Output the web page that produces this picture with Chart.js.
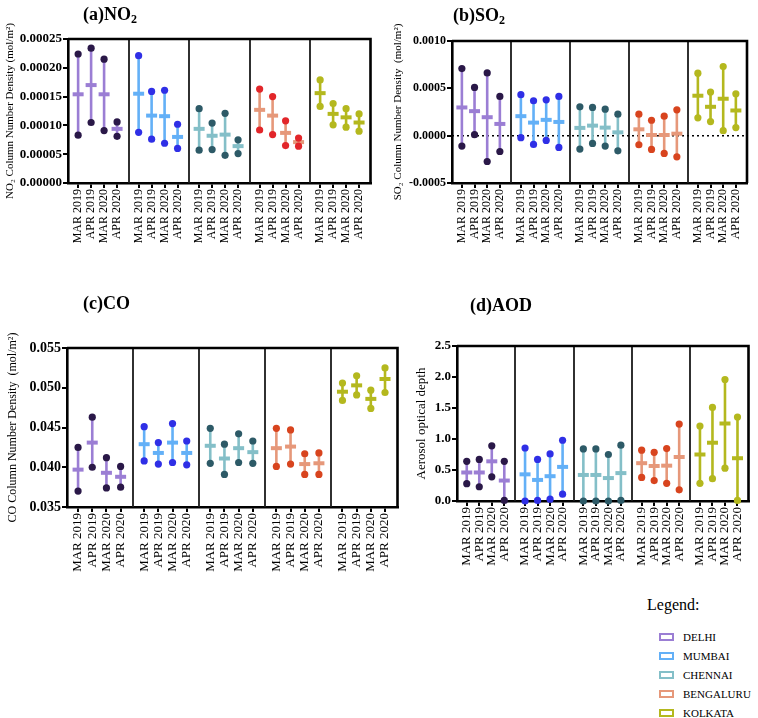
<!DOCTYPE html>
<html><head><meta charset="utf-8">
<script src="https://cdn.jsdelivr.net/npm/chart.js@4.4.0/dist/chart.umd.min.js"></script>
<style>
html,body{margin:0;padding:0;background:#fff;}
body{width:758px;height:718px;position:relative;overflow:hidden;font-family:"Liberation Serif","Times New Roman",serif;color:#000;}
canvas{position:absolute;}
.ttl{position:absolute;font-weight:bold;font-size:18px;line-height:18px;white-space:nowrap;}
.ttl sub{font-size:12px;vertical-align:-3px;line-height:0;}
#legTitle{position:absolute;left:647px;top:597px;font-size:16px;line-height:16px;}
.legItem{position:absolute;left:659px;height:12px;font-size:11px;line-height:12px;white-space:nowrap;}
.legBox{position:absolute;left:0;top:2px;width:11px;height:4px;border:2px solid;background:#fff;}
.legTxt{position:absolute;left:24px;top:0;}
</style></head>
<body>
<canvas id="cA" width="380" height="260" style="left:0;top:0"></canvas>
<canvas id="cB" width="370" height="260" style="left:388px;top:0"></canvas>
<canvas id="cC" width="405" height="285" style="left:2px;top:300px"></canvas>
<canvas id="cD" width="348" height="285" style="left:410px;top:300px"></canvas>
<div class="ttl" style="left:83px;top:5px">(a)NO<sub>2</sub></div>
<div class="ttl" style="left:453px;top:6px">(b)SO<sub>2</sub></div>
<div class="ttl" style="left:83px;top:294px">(c)CO</div>
<div class="ttl" style="left:470px;top:296px">(d)AOD</div>
<div id="legTitle">Legend:</div>
<div id="legend"></div>
<script>
// ---- categories ----
const cities = ['DELHI', 'MUMBAI', 'CHENNAI', 'BENGALURU', 'KOLKATA'];
const periods = ['MAR 2019', 'APR 2019', 'MAR 2020', 'APR 2020'];

// ---- NO2 (mol/m^2): rows = cities, columns = periods ----
const no2Mean = [
  [0.000154, 0.000170, 0.000154, 0.000094],
  [0.000155, 0.000117, 0.000116, 0.000080],
  [0.000094, 0.000082, 0.000084, 0.000064],
  [0.000127, 0.000117, 0.000087, 0.000071],
  [0.000156, 0.000120, 0.000114, 0.000105]
];
const no2Min = [
  [0.000083, 0.000105, 0.000091, 0.000081],
  [0.000088, 0.000076, 0.000069, 0.000060],
  [0.000057, 0.000058, 0.000048, 0.000051],
  [0.000092, 0.000084, 0.000065, 0.000064],
  [0.000133, 0.000101, 0.000097, 0.000090]
];
const no2Max = [
  [0.000224, 0.000234, 0.000215, 0.000106],
  [0.000221, 0.000159, 0.000161, 0.000102],
  [0.000129, 0.000104, 0.000121, 0.000075],
  [0.000163, 0.000150, 0.000108, 0.000078],
  [0.000179, 0.000138, 0.000129, 0.000120]
];

// ---- SO2 ----
const so2Mean = [
  [0.000298, 0.000259, 0.000195, 0.000124],
  [0.000206, 0.000138, 0.000167, 0.000145],
  [0.000082, 0.000106, 0.000085, 0.000035],
  [0.000067, 0.000007, 0.000007, 0.000021],
  [0.000422, 0.000305, 0.000390, 0.000266]
];
const so2Min = [
  [-0.000110, 0.000010, -0.000273, -0.000167],
  [-0.000021, -0.000092, -0.000050, -0.000124],
  [-0.000142, -0.000082, -0.000110, -0.000160],
  [-0.000096, -0.000145, -0.000188, -0.000223],
  [0.000188, 0.000149, 0.000053, 0.000085]
];
const so2Max = [
  [0.000709, 0.000510, 0.000663, 0.000415],
  [0.000433, 0.000369, 0.000379, 0.000415],
  [0.000305, 0.000298, 0.000280, 0.000227],
  [0.000227, 0.000163, 0.000206, 0.000273],
  [0.000660, 0.000461, 0.000730, 0.000443]
];

// ---- CO ----
const coMean = [
  [0.0397, 0.0431, 0.0393, 0.0388],
  [0.0429, 0.0418, 0.0431, 0.0418],
  [0.0427, 0.0411, 0.0424, 0.0419],
  [0.0424, 0.0426, 0.0404, 0.0405],
  [0.0495, 0.0503, 0.0486, 0.0511]
];
const coMin = [
  [0.0370, 0.0400, 0.0374, 0.0375],
  [0.0408, 0.0404, 0.0406, 0.0403],
  [0.0405, 0.0391, 0.0406, 0.0405],
  [0.0401, 0.0404, 0.0391, 0.0391],
  [0.0484, 0.0491, 0.0474, 0.0494]
];
const coMax = [
  [0.0425, 0.0463, 0.0412, 0.0401],
  [0.0451, 0.0431, 0.0455, 0.0433],
  [0.0449, 0.0429, 0.0442, 0.0433],
  [0.0449, 0.0447, 0.0417, 0.0418],
  [0.0506, 0.0515, 0.0497, 0.0525]
];

// ---- AOD ----
const aodMean = [
  [0.46, 0.46, 0.64, 0.33],
  [0.43, 0.34, 0.40, 0.55],
  [0.42, 0.42, 0.37, 0.45],
  [0.61, 0.565, 0.57, 0.71],
  [0.75, 0.94, 1.25, 0.69]
];
const aodMin = [
  [0.28, 0.23, 0.39, 0.01],
  [0.00, 0.01, 0.03, 0.11],
  [0.00, 0.00, 0.00, 0.01],
  [0.38, 0.33, 0.285, 0.18],
  [0.285, 0.36, 0.53, 0.01]
];
const aodMax = [
  [0.64, 0.67, 0.89, 0.64],
  [0.855, 0.67, 0.76, 0.98],
  [0.84, 0.84, 0.75, 0.90],
  [0.82, 0.785, 0.845, 1.24],
  [1.21, 1.51, 1.96, 1.355]
];

// ---- tick labels ----
const no2Ticks = [0, 0.00005, 0.0001, 0.00015, 0.0002, 0.00025];
const so2Ticks = [-0.0005, 0, 0.0005, 0.001];
const coTicks = [0.035, 0.040, 0.045, 0.050, 0.055];
const aodTicks = [0, 0.5, 1.0, 1.5, 2.0, 2.5];

// ---- styling ----
const lineColors = ['#9b7ed4', '#63b0f7', '#84bfc8', '#e6987a', '#b4b81e'];
const dotColors = ['#2a1848', '#2f2fe6', '#2d5a67', '#d8441e', '#b4b81e'];
const FONT = '"Liberation Serif", "Times New Roman", serif';
Chart.defaults.color = '#000';
Chart.defaults.font.family = FONT;

const G = 4.66, OFF = 0.78;
function xPos(c, p) { return c * G + OFF + p; }

const framePlugin = {
  id: 'frame',
  beforeDatasetsDraw(chart, args, opts) {
    const { ctx, chartArea: a, scales } = chart;
    const x = scales.x, y = scales.y;
    ctx.save();
    ctx.strokeStyle = '#1a1a1a';
    ctx.lineWidth = 1.8;
    for (let c = 1; c < cities.length; c++) {
      const px = Math.round(x.getPixelForValue(c * G));
      ctx.beginPath(); ctx.moveTo(px, a.top); ctx.lineTo(px, a.bottom); ctx.stroke();
    }
    if (opts && opts.zero) {
      const py = y.getPixelForValue(0);
      ctx.setLineDash([2, 3]);
      ctx.lineWidth = 1.5;
      ctx.strokeStyle = '#000';
      ctx.beginPath(); ctx.moveTo(a.left, py); ctx.lineTo(a.right, py); ctx.stroke();
      ctx.setLineDash([]);
    }
    ctx.strokeStyle = '#000';
    ctx.lineWidth = 2.6;
    ctx.beginPath();
    ctx.moveTo(a.left, a.top); ctx.lineTo(a.right, a.top); ctx.lineTo(a.right, a.bottom);
    ctx.stroke();
    ctx.restore();
  }
};

function build(id, cfg) {
  const datasets = [];
  cities.forEach((city, c) => {
    const lineData = [], meanData = [], endData = [];
    periods.forEach((per, p) => {
      const x = xPos(c, p);
      lineData.push({ x: x, y: cfg.min[c][p] }, { x: x, y: cfg.max[c][p] }, { x: x, y: null });
      meanData.push({ x: x, y: cfg.mean[c][p] });
      endData.push({ x: x, y: cfg.min[c][p] }, { x: x, y: cfg.max[c][p] });
    });
    const dot = (cfg.dotOverride && cfg.dotOverride[c]) || dotColors[c];
    datasets.push({
      type: 'line', label: city, data: lineData, borderColor: lineColors[c], borderWidth: 2.6,
      pointRadius: 0, spanGaps: false, fill: false, tension: 0, order: 3, clip: false
    });
    datasets.push({
      type: 'scatter', label: city + ' mean', data: meanData, pointStyle: 'line', pointRadius: 5.5,
      pointBorderWidth: 4, pointBorderColor: lineColors[c], borderColor: lineColors[c],
      pointBackgroundColor: lineColors[c], order: 2, clip: false
    });
    datasets.push({
      type: 'scatter', label: city + ' range', data: endData, pointStyle: 'circle', pointRadius: 3.6,
      pointBorderWidth: 0, pointBackgroundColor: dot, backgroundColor: dot, borderColor: dot,
      order: 1, clip: false
    });
  });
  const tickPositions = [];
  cities.forEach((city, c) => periods.forEach((per, p) => tickPositions.push(xPos(c, p))));

  new Chart(document.getElementById(id), {
    type: 'scatter',
    data: { datasets: datasets },
    plugins: [framePlugin],
    options: {
      responsive: false,
      animation: false,
      events: [],
      layout: { padding: { top: cfg.pt, right: cfg.pr, left: 0, bottom: 0 } },
      plugins: { legend: { display: false }, tooltip: { enabled: false }, frame: { zero: !!cfg.zero } },
      scales: {
        x: {
          type: 'linear', min: 0, max: cities.length * G,
          afterBuildTicks: s => { s.ticks = tickPositions.map(v => ({ value: v })); },
          afterFit: s => { s.height = cfg.xh; },
          ticks: {
            autoSkip: false, minRotation: 90, maxRotation: 90, padding: 1,
            font: { size: cfg.xFont, family: FONT },
            callback: (v, i) => periods[i % periods.length]
          },
          grid: { display: true, drawOnChartArea: false, drawTicks: true, tickLength: 5, color: '#000', lineWidth: 2 },
          border: { display: true, color: '#000', width: 2.6 }
        },
        y: {
          type: 'linear', min: cfg.ticks[0], max: cfg.ticks[cfg.ticks.length - 1],
          afterBuildTicks: s => { s.ticks = cfg.ticks.map(v => ({ value: v })); },
          afterFit: s => { s.width = cfg.yw; },
          ticks: {
            padding: 1, font: { size: cfg.yFont, weight: 'bold', family: FONT },
            callback: v => Number(v).toFixed(cfg.dec)
          },
          grid: { display: true, drawOnChartArea: false, drawTicks: true, tickLength: 5, color: '#000', lineWidth: 2 },
          border: { display: true, color: '#000', width: 2.6 },
          title: { display: true, text: cfg.yTitle, font: { size: cfg.tFont, family: FONT }, padding: { top: 4, bottom: 0 } }
        }
      }
    }
  });
}

build('cA', { mean: no2Mean, min: no2Min, max: no2Max, ticks: no2Ticks, dec: 5,
  yTitle: 'NO\u2082 Column Number Density (mol/m\u00B2)', tFont: 11, yFont: 13, xFont: 12,
  yw: 68, pt: 39, pr: 7, xh: 77, dotOverride: [null, null, null, '#e2262a', null] });
build('cB', { mean: so2Mean, min: so2Min, max: so2Max, ticks: so2Ticks, dec: 4,
  yTitle: 'SO\u2082 Column Number Density  (mol/m\u00B2)', tFont: 11, yFont: 12, xFont: 12,
  yw: 64, pt: 41, pr: 11, xh: 77, zero: true });
build('cC', { mean: coMean, min: coMin, max: coMax, ticks: coTicks, dec: 3,
  yTitle: 'CO Column Number Density  (mol/m\u00B2)', tFont: 12, yFont: 14, xFont: 13,
  yw: 65, pt: 48, pr: 8, xh: 78 });
build('cD', { mean: aodMean, min: aodMin, max: aodMax, ticks: aodTicks, dec: 1,
  yTitle: 'Aerosol optical depth', tFont: 13, yFont: 13, xFont: 13,
  yw: 47, pt: 46, pr: 3, xh: 84 });

// ---- legend ----
const leg = document.getElementById('legend');
cities.forEach((city, c) => {
  const item = document.createElement('div');
  item.className = 'legItem';
  item.style.top = (631 + c * 19) + 'px';
  const box = document.createElement('div');
  box.className = 'legBox';
  box.style.borderColor = lineColors[c];
  const txt = document.createElement('div');
  txt.className = 'legTxt';
  txt.textContent = city;
  item.appendChild(box); item.appendChild(txt);
  leg.appendChild(item);
});
</script>
</body></html>
